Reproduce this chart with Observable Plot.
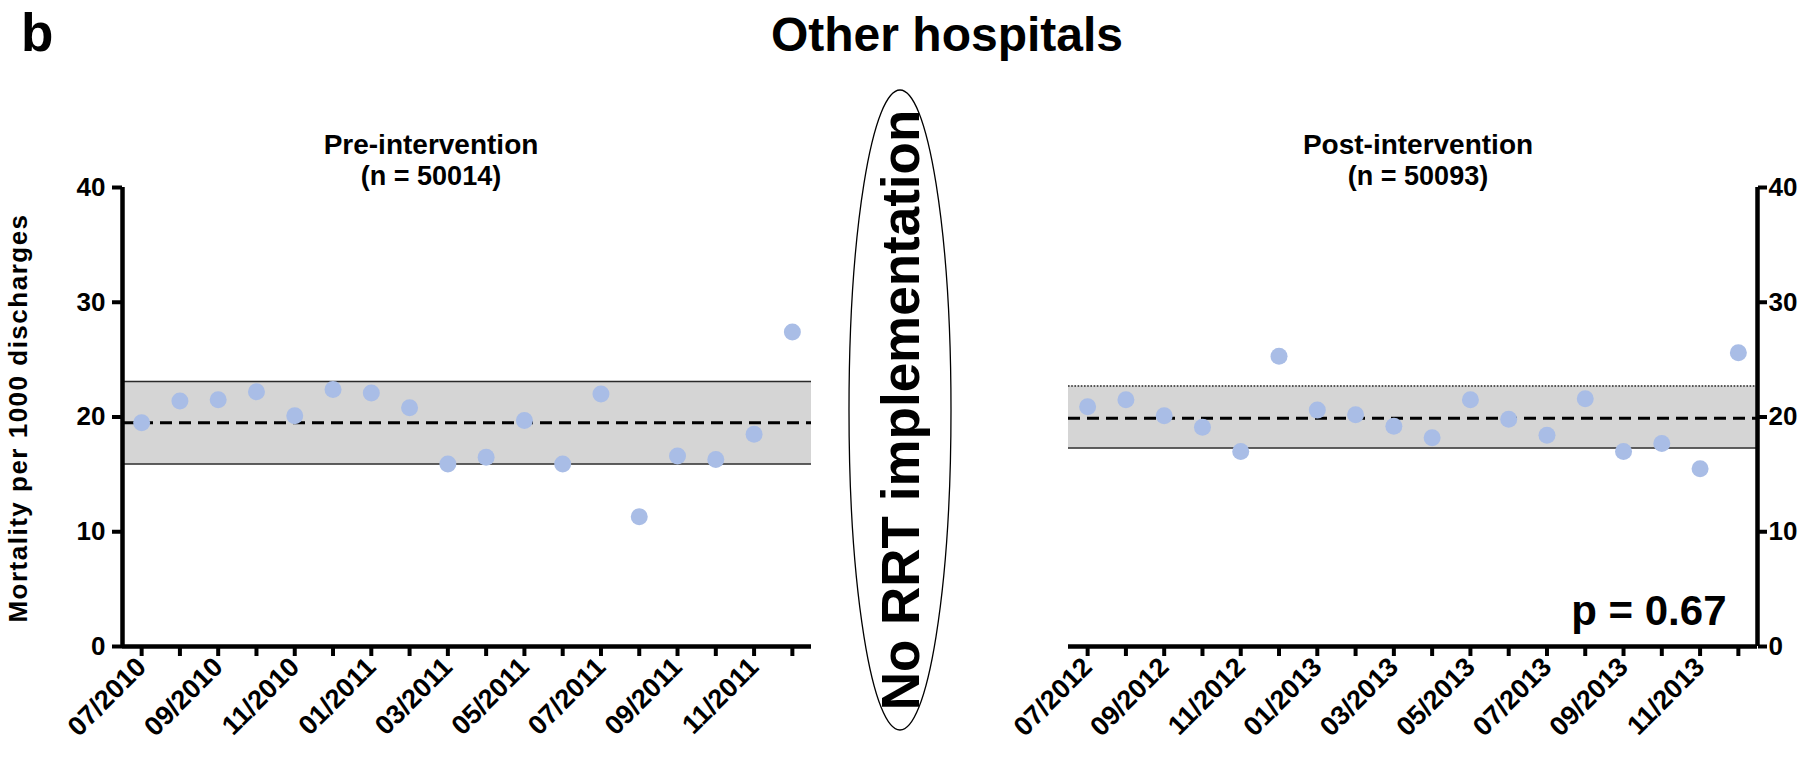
<!DOCTYPE html>
<html><head><meta charset="utf-8">
<script src="https://cdn.jsdelivr.net/npm/d3@7"></script>
<script src="https://cdn.jsdelivr.net/npm/@observablehq/plot@0.6"></script>
<style>
html,body{margin:0;padding:0;background:#fff;}
#wrap{position:relative;width:1806px;height:761px;overflow:hidden;font-family:"Liberation Sans",Arial,sans-serif;}
#wrap > svg{position:absolute;top:0;}
</style></head><body><div id="wrap"></div>
<script>
// ---- data ----
const preMonths = ["07/2010","08/2010","09/2010","10/2010","11/2010","12/2010","01/2011","02/2011","03/2011","04/2011","05/2011","06/2011","07/2011","08/2011","09/2011","10/2011","11/2011","12/2011"];
const preValues = [19.5, 21.4, 21.5, 22.2, 20.1, 22.4, 22.1, 20.8, 15.9, 16.5, 19.7, 15.9, 22.0, 11.3, 16.6, 16.3, 18.5, 27.4];
const preMean = 19.5, preLower = 15.9, preUpper = 23.1;

const postMonths = ["07/2012","08/2012","09/2012","10/2012","11/2012","12/2012","01/2013","02/2013","03/2013","04/2013","05/2013","06/2013","07/2013","08/2013","09/2013","10/2013","11/2013","12/2013"];
const postValues = [20.9, 21.5, 20.1, 19.1, 17.0, 25.3, 20.6, 20.2, 19.2, 18.2, 21.5, 19.8, 18.4, 21.6, 17.0, 17.7, 15.5, 25.6];
const postMean = 19.9, postLower = 17.3, postUpper = 22.7;

const yTicks = [0, 10, 20, 30, 40];
const yLabel = "Mortality per 1000 discharges";
const mainTitle = "Other hospitals";
const panelLetter = "b";
const preTitle = ["Pre-intervention", "(n = 50014)"];
const postTitle = ["Post-intervention", "(n = 50093)"];
const gapText = "No RRT implementation";
const pText = "p = 0.67";

// ---- drawing ----
const FONT = "'Liberation Sans', Arial, sans-serif";
const wrap = document.getElementById("wrap");

function panel({months, values, mean, lower, upper, side, width, marginLeft, marginRight, upperDotted, extra}) {
  const n = months.length;
  const idx = months.map((_, i) => i);
  const data = months.map((m, i) => ({i, m, v: values[i]}));
  const x1 = -0.5, x2 = n - 0.5;
  const marks = [
    Plot.rect([0], {x1, x2, y1: lower, y2: upper, fill: "#d5d5d5"}),
    Plot.ruleY([lower], {x1, x2, stroke: "#2a2a2a", strokeWidth: 1.6}),
    Plot.ruleY([upper], {x1, x2, stroke: "#2a2a2a", strokeWidth: upperDotted ? 1.3 : 1.6, strokeDasharray: upperDotted ? "1.6,1.6" : null}),
    Plot.ruleY([mean], {x1, x2, stroke: "#000", strokeWidth: 3, strokeDasharray: "12,7"}),
    Plot.dot(data, {x: "i", y: "v", r: 8.5, fill: "#a9bde6"}),
    Plot.axisX({ticks: idx, tickFormat: i => (i % 2 === 0 ? months[i] : ""), tickRotate: -45, tickSize: 10, tickPadding: 6, strokeWidth: 4, fontSize: 27, label: null}),
    Plot.axisY({anchor: side, ticks: yTicks, tickSize: side === "left" ? 10 : 9, tickPadding: side === "left" ? 7 : 2, strokeWidth: 4, fontSize: 26, label: null}),
    Plot.ruleY([0], {x1, x2, stroke: "#000", strokeWidth: 4.5}),
    Plot.ruleX([side === "left" ? x1 : x2], {y1: 0, y2: 40, stroke: "#000", strokeWidth: 4.5}),
    ...(extra || [])
  ];
  return Plot.plot({
    width, height: 761,
    marginLeft, marginRight, marginTop: 187, marginBottom: 115,
    x: {type: "linear", domain: [x1, x2]},
    y: {domain: [0, 40]},
    style: {fontFamily: FONT, fontWeight: "bold", color: "#000", background: "transparent", overflow: "visible"},
    marks
  });
}

const left = panel({
  months: preMonths, values: preValues, mean: preMean, lower: preLower, upper: preUpper,
  side: "left", width: 840, marginLeft: 122, marginRight: 29, upperDotted: false
});
left.style.left = "0px";
wrap.appendChild(left);

const right = panel({
  months: postMonths, values: postValues, mean: postMean, lower: postLower, upper: postUpper,
  side: "right", width: 826, marginLeft: 88, marginRight: 49, upperDotted: true,
  extra: [Plot.text([pText], {text: d => d, frameAnchor: "bottom-right", textAnchor: "end", lineAnchor: "bottom", dx: -31, dy: -22, fontSize: 42, fontWeight: "bold"})]
});
right.style.left = "980px";
wrap.appendChild(right);

// overlay with titles, axis title and the gap annotation
const svg = d3.select(wrap).append("svg")
  .attr("width", 1806).attr("height", 761)
  .style("left", "0px").style("pointer-events", "none")
  .attr("font-family", FONT).attr("font-weight", "bold");

svg.append("text").attr("x", 21).attr("y", 51).attr("font-size", 53).text(panelLetter);
svg.append("text").attr("x", 947).attr("y", 51).attr("font-size", 48).attr("text-anchor", "middle").text(mainTitle);

svg.append("text").attr("transform", "translate(27,418) rotate(-90)")
  .attr("text-anchor", "middle").attr("font-size", 26).style("letter-spacing", "1.5px").text(yLabel);

[[431, preTitle], [1418, postTitle]].forEach(([cx, lines]) => {
  svg.append("text").attr("x", cx).attr("y", 154).attr("font-size", 28).attr("text-anchor", "middle").text(lines[0]);
  svg.append("text").attr("x", cx).attr("y", 185).attr("font-size", 27).attr("text-anchor", "middle").text(lines[1]);
});

svg.append("ellipse").attr("cx", 900).attr("cy", 410).attr("rx", 51).attr("ry", 320)
  .attr("fill", "none").attr("stroke", "#000").attr("stroke-width", 1.3);
svg.append("text").attr("transform", "translate(900,410) rotate(-90)")
  .attr("text-anchor", "middle").attr("dy", "0.36em").attr("font-size", 53).text(gapText);
</script>
</body></html>
